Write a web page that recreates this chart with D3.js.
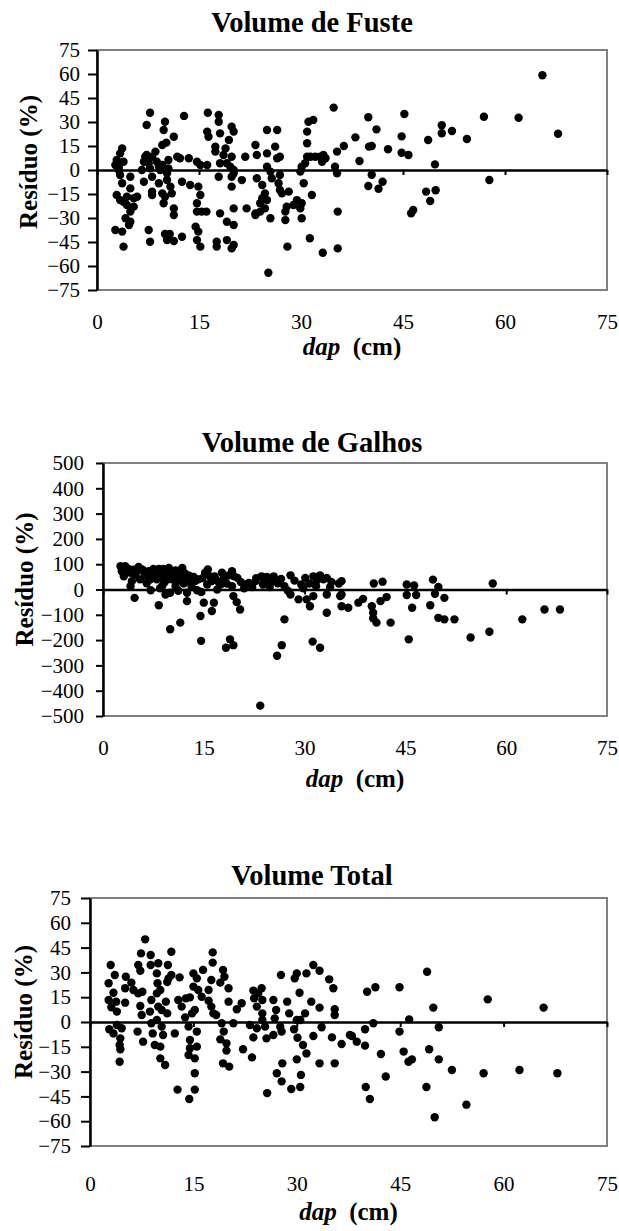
<!DOCTYPE html>
<html><head><meta charset="utf-8">
<script src="https://cdn.jsdelivr.net/npm/d3@7"></script>
<style>
body{margin:0;background:#fff}
svg text{font-family:"Liberation Serif","Times New Roman",Times,"DejaVu Serif",serif !important;}
</style>
</head><body>
<svg id="c" width="619" height="1231"></svg>
<script>
// ---------- DATA ----------
const xTicks = [0, 15, 30, 45, 60, 75];
const pctTicks = [75, 60, 45, 30, 15, 0, -15, -30, -45, -60, -75];
const galhosTicks = [500, 400, 300, 200, 100, 0, -100, -200, -300, -400, -500];
const panelTitles = ["Volume de Fuste", "Volume de Galhos", "Volume Total"];
const yLabel = "Resíduo (%)";

const fusteDap = [3.7,3.4,2.9,2.7,3.2,3.9,3.4,4.9,3.7,4.9,2.9,3.4,3.9,5.9,4.4,5.4,4.9,4.2,4.9,4.7,2.7,3.7,3.9,3.2,4.4,5.4,
7.8,7.3,10.0,9.8,11.3,9.6,10.2,8.6,7.3,8.1,6.9,7.6,8.8,9.6,10.5,6.6,7.8,9.3,10.3,6.9,8.1,9.1,10.3,10.8,8.1,8.1,9.6,10.0,11.0,9.8,11.3,11.3,7.6,7.8,10.0,10.7,10.3,11.3,12.5,7.1,9.1,10.5,
12.8,11.8,12.2,13.5,14.7,15.2,16.2,12.5,13.7,14.9,15.2,14.7,14.7,15.4,16.1,14.5,14.9,14.7,15.2,16.3,17.9,17.9,16.2,16.4,18.1,19.8,20.1,17.4,17.4,18.9,19.4,18.6,19.8,19.1,20.1,18.1,17.9,19.8,20.1,19.8,21.3,20.1,18.1,19.1,20.1,17.6,17.6,19.1,19.8,20.1,21.8,19.6,
25.0,26.5,26.2,23.3,23.5,25.0,26.5,26.9,25.0,25.5,23.5,24.3,25.7,26.9,24.7,26.7,26.9,28.2,27.2,22.0,23.3,24.0,24.3,25.0,24.7,25.5,24.0,25.2,27.7,27.9,28.9,27.7,28.0,23.3,
29.9,30.1,30.6,30.4,29.4,30.1,29.9,30.1,31.3,31.6,30.9,31.1,31.8,30.9,30.9,31.4,32.1,32.8,33.3,33.1,33.6,34.8,35.0,35.3,35.3,36.3,33.2,35.4,35.4,
38.0,38.6,39.9,41.1,40.0,40.4,42.8,40.4,39.9,41.4,42.0,45.2,44.8,44.8,45.8,46.2,46.5,48.7,49.7,48.4,49.8,49.0,50.7,50.7,52.2,54.4,56.9,57.7,62.0,65.5,67.8];
const fusteRes = [13.5,10.4,6.3,3.1,2.1,5.2,-3.1,-4.2,-8.3,-11.5,-15.6,-18.8,-19.8,-16.7,-21.9,-22.9,-26,-30.2,-32.3,-34.4,-37.5,-38.5,-47.9,0,-16.7,-17.7,
35.8,28.1,30.2,25,20.8,15.6,17.1,11.5,9.4,8.3,5.2,4.2,5.2,3.1,6.3,0,1,0,-2.1,-7.3,-4.2,-8.3,-6.3,-10.4,-13.5,-15.6,-14.6,-16.7,-14.6,-20.8,-24,-28.1,-37.5,-44.8,-40,-40,-43.8,-44.4,-41.7,8.3,2.1,1,
33.8,8.3,7.3,7.3,5.2,3.1,3.1,-7.3,-9.4,-10.4,-15.6,-20.8,-26,-26,-26,-35.4,-38.5,-43.8,-47.9,35.8,34.4,30.2,24,20.8,22.9,27.1,24,14.6,11.5,13.5,18.8,9.4,8.3,4.2,0,4.2,-4.2,-4.2,-2.1,-10.4,-6.3,-24,-27.1,-32.3,-34.4,-44.8,-47.9,-43.8,-49,-46.9,8.3,2.1,
25,25,14.6,15.6,9.4,10.4,7.3,8.3,2.1,-1,-5.2,-9.4,-5.2,-3.1,-14.6,-8.3,-12.5,-13.5,-14.6,-24,-28.1,-20.8,-17.7,-18.8,-24,-30.2,-26,-64.2,-26,-22.9,-21.9,-31.3,-47.9,-27.1,
-1,2.1,4.2,-8.3,-18.8,-20.8,-24,-30.2,-42.7,-15.6,24,30.2,31.3,16.7,8.3,8.3,8.3,8.3,9.4,5.2,7.3,39,2.1,-2.1,11.5,15,-51.7,-49,-26,
20.4,5.6,33,25.4,14.6,15,13,-3,-10,-11.7,-7.3,35,21,10.8,9.4,-27,-25,18.75,3.5,-13.5,-12.7,-19.4,28,23,24.4,19.4,33.3,-6.25,32.7,59.2,22.7];

const galhosDap = [2.6,3.3,2.8,3.8,3.1,4.1,4.3,4.1,4.8,5.3,5.8,4.7,6.5,7.0,7.1,7.5,8.3,8.5,9.0,9.8,10.3,8.3,8.8,9.0,9.6,10.5,11.0,9.3,10.0,10.8,
10.0,11.5,11.8,12.2,12.5,12.0,12.5,12.5,13.1,13.7,14.5,14.6,15.0,14.6,15.2,15.6,15.9,16.2,16.6,16.5,16.2,17.5,17.7,18.0,18.4,19.2,19.5,20.0,19.2,19.4,
19.9,20.4,18.3,18.9,19.4,21.7,22.2,22.7,23.6,24.4,25.4,23.8,23.4,25.9,26.6,27.0,26.5,27.9,27.0,27.9,29.1,30.1,30.7,31.3,32.3,33.3,30.3,31.3,30.8,31.7,
31.2,32.3,33.3,33.3,35.1,35.5,35.3,35.5,
3.5,4.5,5.0,6.0,6.8,7.8,8.8,9.5,10.8,11.3,6.2,7.5,8.0,9.2,10.2,11.5,12.8,13.5,14.2,14.8,16.8,17.2,18.6,20.5,21.2,22.8,24.0,25.0,26.0,28.5,29.5,31.8,32.8,34.0,
13.2,15.5,21.0,24.8,11.2,14.0,17.0,8.5,6.5,5.5,27.5,29.8,33.8,
35.5,36.5,38.0,38.7,40.0,40.2,40.2,40.7,41.3,42.2,40.3,41.6,42.8,45.2,46.3,45.2,46.6,46.0,45.5,49.1,49.9,49.4,50.8,48.7,49.9,50.8,52.3,54.7,57.5,58.0,62.4,65.7,68.0];
const galhosRes = [92,92,72,81,52,66,33,13,59,89,79,-33,66,39,-3,81,81,63,81,85,66,-62,13,39,52,52,33,-20,-13,13,
-157,-131,85,63,42,24,-13,-46,24,33,-105,-203,-52,-10,66,79,52,33,52,-52,-85,20,66,46,24,72,52,46,13,-26,
-50,-79,-230,-197,-220,26,10,33,52,50,52,20,-459,-262,-220,-118,42,56,13,-20,-39,46,24,52,56,46,-39,-26,-66,13,
-206,-230,-92,-20,24,33,-26,-66,
75,78,70,75,72,70,68,72,75,60,55,50,40,30,40,45,55,50,40,45,40,30,55,30,20,45,35,30,25,35,20,35,40,30,
10,20,5,10,-5,-3,0,5,25,40,-5,5,10,
-20,-72,-52,-37,-66,-92,-114,-131,-46,-30,24,31,-131,20,16,-22,-22,-72,-197,39,10,-17,-33,-62,-112,-118,-118,-190,-167,24,-118,-79,-79];

const totalDap = [3.0,2.7,3.6,2.7,3.4,3.1,3.8,3.9,2.8,3.4,3.9,4.6,4.4,4.3,4.4,4.3,5.2,5.1,5.1,6.0,6.3,7.0,7.3,7.0,7.6,7.3,7.5,8.0,7.4,8.8,
8.8,6.9,7.7,8.9,8.7,8.9,9.1,9.4,9.7,9.9,9.8,10.2,9.7,9.9,10.4,9.7,10.4,10.6,10.2,10.2,10.9,11.3,11.4,11.8,11.2,11.0,11.2,12.3,11.8,13.0,
12.8,13.3,13.9,13.8,14.3,14.5,14.5,14.3,15.2,15.2,14.5,15.0,15.0,15.5,14.8,15.2,15.5,15.5,15.7,16.2,16.4,17.2,17.8,17.8,17.6,17.2,17.6,18.3,17.9,19.3,
19.5,18.9,20.1,19.1,19.4,18.9,19.8,19.8,19.3,20.2,20.1,20.8,21.3,22.0,22.2,23.2,23.5,23.7,23.7,23.8,24.4,24.9,25.0,24.2,25.0,25.0,25.4,25.6,24.2,26.6,
27.0,26.8,26.6,27.6,27.8,27.7,28.6,28.9,27.1,27.9,29.7,30.0,30.4,30.0,30.5,29.6,30.1,30.9,31.4,30.0,30.6,31.2,31.4,32.1,32.4,33.3,33.3,33.6,32.4,33.3,
34.7,35.3,35.5,35.5,35.1,36.5,35.5,37.7,
38.0,38.7,39.9,39.9,41.1,40.2,41.4,42.2,42.9,44.9,44.9,46.3,45.5,46.2,46.7,48.9,49.8,50.6,49.2,50.6,52.5,57.1,57.7,62.3,65.8,67.8,
12.7,14.4,15.2,25.7,27.8,29.2,30.5,40.0,40.6,48.8,50.0,54.6];
const totalRes = [34.5,23.4,28.4,13.3,17.7,8.9,12.3,6.3,-4.4,-6.9,-1.8,-3.8,-9.9,-13.9,-16.5,-24,27.4,20.4,11.7,23.8,19.4,34.5,31,17.3,18.3,9.7,4.2,50,41.5,40.5,
34.5,-5.8,-11.9,13.3,6.3,-0.8,-6.9,-13.9,29.4,35.5,23.4,19.4,17.3,9.3,7.3,1.2,-2.8,-7.9,-14.9,-22,-26,34.5,26.4,42.5,24.2,12.3,5.2,-6.9,28.4,27,
13.3,9.3,14.3,2.8,-2.8,-10.9,-15.9,-20,-22,-31,14.9,21.4,29.4,26.4,5.2,7.3,-5.8,-14.9,19.4,15.3,31.5,19.4,42.1,35.9,25.4,12.9,9.3,4.2,5.2,31.5,
27.4,23.8,20.4,-0.8,-5.8,-10.5,-12.9,-17.3,-25,-27,12.3,-0.8,7.7,11.3,-16.5,-1.8,-21.4,-9.3,19,14.3,17.3,20.4,13.3,9.3,5.2,1.2,-2.8,-9.9,-3.8,13.3,
7.3,2.2,-7.9,-2.8,-5.8,28.4,12.3,5.2,-31,-25,26.4,29.4,17.7,1.2,1.2,-4.4,-9.5,-13.9,-19,-22.6,-32,5.2,29.4,12.3,34.5,31,8.7,-3.2,-8.5,-25,
25.8,20.4,7.7,4.2,-9.3,-13.3,-25,-7.9,
-8.5,-11.9,-14.3,-4.4,-0.8,18.3,21,-19.4,-33,21,-5.8,1.6,-17.9,-24,-22.6,30.4,8.7,-3.2,-16.5,-22.6,-29,-31,13.7,-29,8.7,-31,
-40.9,-46.6,-40.9,-43,-35.9,-40.5,-39.3,-39.3,-46.6,-39.3,-57.6,-50];

// ---------- LAYOUT ----------
const W = 619, H = 1231;
const FONT = '"Liberation Serif","Times New Roman",Times,"DejaVu Serif",serif';
const panels = [
  {title: panelTitles[0], dap: fusteDap, res: fusteRes, yDomain: [-75, 75], yTicks: pctTicks,
   left: 97, right: 607, top: 50, bottom: 290, titleY: 32, yLabelX: 37, yLabelShift: -8,
   tickLen: 9, tickPad: 8, xLabOff: 24, dapOff: 65},
  {title: panelTitles[1], dap: galhosDap, res: galhosRes, yDomain: [-500, 500], yTicks: galhosTicks,
   left: 103, right: 607, top: 463, bottom: 716, titleY: 452, yLabelX: 33, yLabelShift: -10,
   tickLen: 7, tickPad: 12, xLabOff: 24, dapOff: 71},
  {title: panelTitles[2], dap: totalDap, res: totalRes, yDomain: [-75, 75], yTicks: pctTicks,
   left: 90, right: 607, top: 898, bottom: 1146, titleY: 885, yLabelX: 32, yLabelShift: -10,
   tickLen: 9, tickPad: 10, xLabOff: 30, dapOff: 74}
];

const svg = d3.select("#c").style("font-family", FONT);
svg.append("rect").attr("width", W).attr("height", H).attr("fill", "#fff");

panels.forEach(p => {
  const x = d3.scaleLinear().domain([0, 75]).range([p.left, p.right]);
  const y = d3.scaleLinear().domain(p.yDomain).range([p.bottom, p.top]);
  const g = svg.append("g");

  // plot area border (gray)
  g.append("rect")
    .attr("x", p.left).attr("y", p.top)
    .attr("width", p.right - p.left).attr("height", p.bottom - p.top)
    .attr("fill", "none").attr("stroke", "#808080").attr("stroke-width", 2);

  // y axis
  const ya = g.append("g").attr("transform", `translate(${p.left},0)`)
    .call(d3.axisLeft(y).tickValues(p.yTicks).tickSize(p.tickLen).tickPadding(p.tickPad).tickSizeOuter(0)
      .tickFormat(d3.format("d")));
  ya.attr("font-family", null);
  ya.select(".domain").attr("stroke", "#000").attr("stroke-width", 2.5);
  ya.selectAll(".tick line").attr("stroke", "#000").attr("stroke-width", 2);
  ya.selectAll(".tick text").attr("font-size", 21).attr("fill", "#000");

  // points
  g.append("g").selectAll("circle")
    .data(d3.zip(p.dap, p.res))
    .join("circle")
    .attr("cx", d => x(d[0])).attr("cy", d => y(d[1]))
    .attr("r", 4.2).attr("fill", "#000");

  // zero line x axis with ticks
  const xa = g.append("g").attr("transform", `translate(0,${y(0)})`)
    .call(d3.axisBottom(x).tickValues(xTicks).tickSize(5).tickSizeOuter(0).tickFormat(""));
  xa.select(".domain").attr("stroke", "#000").attr("stroke-width", 2.5);
  xa.selectAll(".tick line").attr("stroke", "#000").attr("stroke-width", 2);

  // x tick labels below plot
  const xl = g.append("g").attr("transform", `translate(0,${p.bottom + p.xLabOff})`)
    .call(d3.axisBottom(x).tickValues(xTicks).tickSize(0).tickPadding(0));
  xl.attr("font-family", null);
  xl.select(".domain").remove();
  xl.selectAll(".tick text").attr("font-size", 21).attr("fill", "#000");

  // title
  g.append("text").attr("x", 312).attr("y", p.titleY)
    .attr("text-anchor", "middle").attr("font-size", 28.5).attr("font-weight", "bold")
    .text(p.title);

  // y label (rotated, baseline toward the axis)
  g.append("text")
    .attr("transform", `translate(${p.yLabelX},${(p.top + p.bottom) / 2 + p.yLabelShift}) rotate(-90)`)
    .attr("text-anchor", "middle")
    .attr("font-size", 25).attr("font-weight", "bold")
    .text(yLabel);

  // x label
  const xt = g.append("text").attr("x", (p.left + p.right) / 2).attr("y", p.bottom + p.dapOff)
    .attr("text-anchor", "middle").attr("font-size", 25).attr("font-weight", "bold");
  xt.append("tspan").attr("font-style", "italic").text("dap");
  xt.append("tspan").text("\u00a0\u00a0(cm)");
});
</script>
</body></html>
